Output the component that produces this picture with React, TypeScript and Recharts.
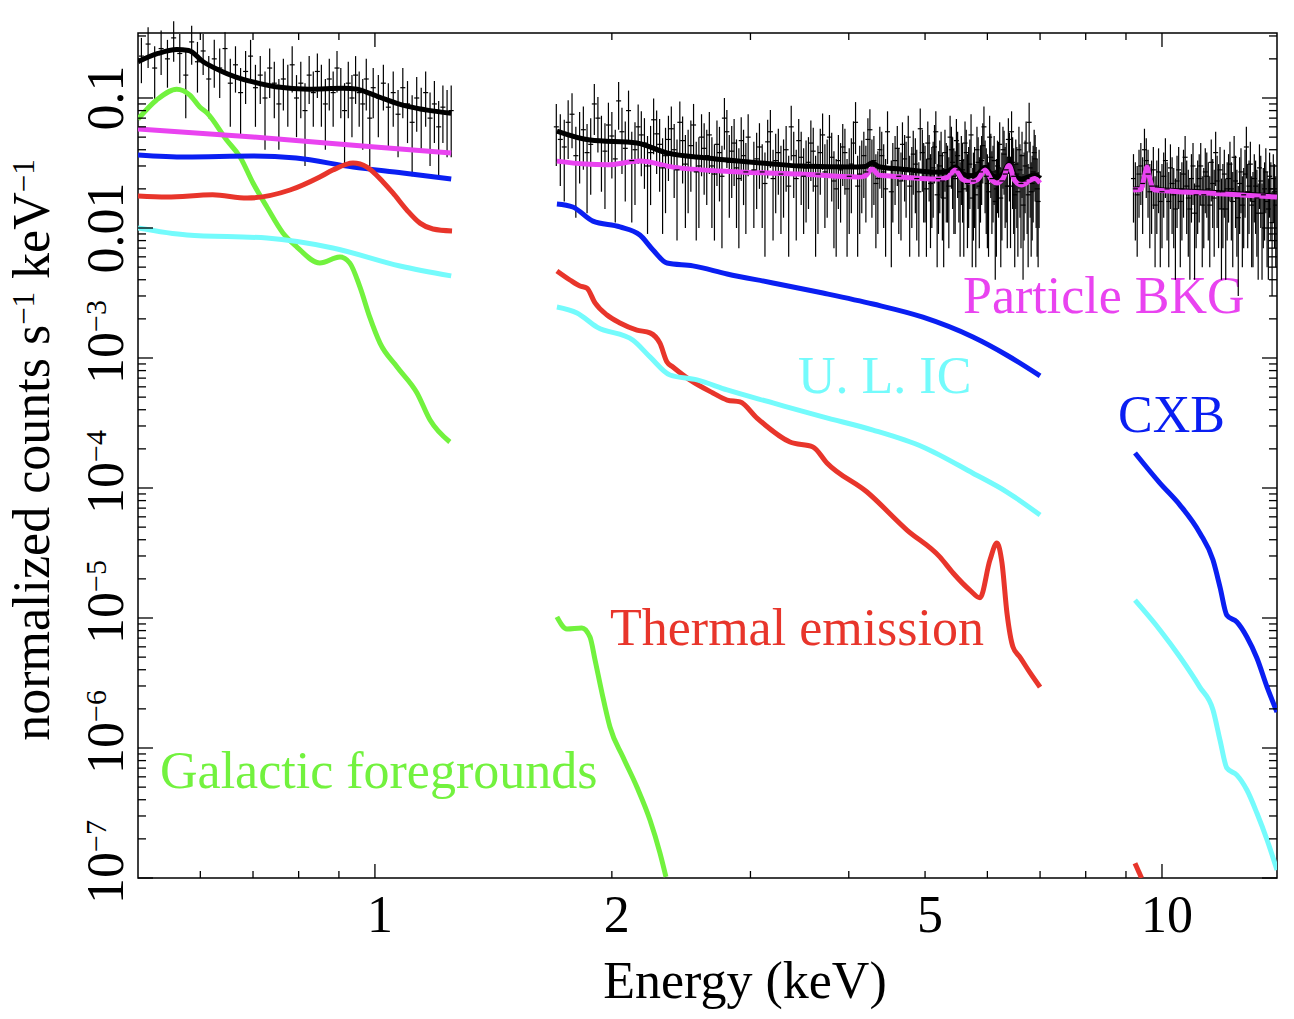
import React from "react";
import {
  ComposedChart,
  XAxis,
  YAxis,
  Line,
  Scatter,
  ErrorBar,
  ReferenceArea,
} from "recharts";

type Pt = [number, number];
type Obs = [number, number, number];

// axis ticks
const xTicks = [0.6, 0.7, 0.8, 0.9, 1, 2, 3, 4, 5, 6, 7, 8, 9, 10];
const xLabelled = [1, 2, 5, 10];
const yDecades = [1e-7, 1e-6, 1e-5, 1e-4, 1e-3, 0.01, 0.1];
const yDecadeLabels: [string, string][] = [
  ["10", "−7"],
  ["10", "−6"],
  ["10", "−5"],
  ["10", "−4"],
  ["10", "−3"],
  ["0.01", ""],
  ["0.1", ""],
];
const yMinorSteps = [2, 3, 4, 5, 6, 7, 8, 9];

// observed spectrum: [energy keV, rate, 1-sigma error]
const spec1: Obs[] = [
  [0.505, 0.21, 0.08], [0.515, 0.26, 0.09], [0.525, 0.17, 0.08], [0.535, 0.24, 0.09],
  [0.545, 0.2, 0.08], [0.555, 0.29, 0.1], [0.565, 0.22, 0.09], [0.575, 0.15, 0.08],
  [0.585, 0.27, 0.09], [0.595, 0.19, 0.08], [0.605, 0.23, 0.08], [0.615, 0.14, 0.07],
  [0.625, 0.2, 0.08], [0.635, 0.17, 0.07], [0.645, 0.24, 0.08], [0.655, 0.13, 0.07],
  [0.665, 0.18, 0.07], [0.675, 0.11, 0.06], [0.685, 0.16, 0.07], [0.695, 0.21, 0.07],
  [0.705, 0.12, 0.06], [0.715, 0.15, 0.06], [0.725, 0.1, 0.06], [0.735, 0.17, 0.07],
  [0.745, 0.13, 0.06], [0.755, 0.09, 0.05], [0.765, 0.14, 0.06], [0.775, 0.12, 0.06],
  [0.785, 0.18, 0.07], [0.795, 0.1, 0.05], [0.805, 0.13, 0.06], [0.815, 0.08, 0.05],
  [0.825, 0.15, 0.06], [0.835, 0.11, 0.05], [0.845, 0.16, 0.06], [0.855, 0.12, 0.06],
  [0.865, 0.09, 0.05], [0.875, 0.14, 0.06], [0.885, 0.11, 0.05], [0.895, 0.17, 0.06],
  [0.905, 0.12, 0.05], [0.915, 0.08, 0.05], [0.925, 0.13, 0.06], [0.935, 0.1, 0.05],
  [0.945, 0.15, 0.06], [0.955, 0.11, 0.05], [0.965, 0.09, 0.05], [0.975, 0.14, 0.06],
  [0.985, 0.07, 0.04], [0.995, 0.12, 0.05], [1.01, 0.1, 0.05], [1.025, 0.13, 0.05],
  [1.04, 0.085, 0.045], [1.055, 0.11, 0.05], [1.07, 0.075, 0.04], [1.085, 0.12, 0.05],
  [1.1, 0.09, 0.045], [1.115, 0.065, 0.04], [1.13, 0.1, 0.045], [1.145, 0.08, 0.04],
  [1.16, 0.11, 0.05], [1.175, 0.07, 0.04], [1.19, 0.09, 0.045], [1.205, 0.06, 0.035],
  [1.22, 0.085, 0.04], [1.235, 0.075, 0.04], [1.25, 0.08, 0.045],
];

const spec2: Obs[] = [
  [1.7, 0.06, 0.03], [1.72, 0.048, 0.027], [1.74, 0.042, 0.026], [1.76, 0.065, 0.031],
  [1.78, 0.075, 0.034], [1.8, 0.036, 0.024], [1.82, 0.05, 0.028], [1.84, 0.057, 0.029],
  [1.86, 0.038, 0.025], [1.88, 0.044, 0.026], [1.9, 0.09, 0.038], [1.92, 0.07, 0.032],
  [1.94, 0.046, 0.027], [1.96, 0.039, 0.025], [1.98, 0.062, 0.03], [2.0, 0.051, 0.027],
  [2.02, 0.034, 0.023], [2.04, 0.095, 0.038], [2.06, 0.055, 0.029], [2.08, 0.041, 0.025],
  [2.1, 0.08, 0.034], [2.12, 0.033, 0.022], [2.14, 0.04, 0.025], [2.16, 0.06, 0.029],
  [2.18, 0.052, 0.027], [2.2, 0.045, 0.025], [2.22, 0.03, 0.021], [2.24, 0.038, 0.023],
  [2.26, 0.068, 0.031], [2.28, 0.053, 0.027], [2.3, 0.044, 0.025], [2.32, 0.029, 0.02],
  [2.34, 0.036, 0.023], [2.36, 0.048, 0.025], [2.38, 0.058, 0.028], [2.4, 0.04, 0.023],
  [2.42, 0.028, 0.02], [2.44, 0.065, 0.029], [2.46, 0.047, 0.025], [2.48, 0.031, 0.021],
  [2.5, 0.035, 0.022], [2.52, 0.043, 0.024], [2.54, 0.062, 0.028], [2.56, 0.027, 0.019],
  [2.58, 0.03, 0.02], [2.6, 0.05, 0.025], [2.62, 0.041, 0.023], [2.64, 0.036, 0.021],
  [2.66, 0.052, 0.026], [2.68, 0.03, 0.02], [2.7, 0.026, 0.018], [2.72, 0.044, 0.023],
  [2.74, 0.038, 0.022], [2.76, 0.025, 0.018], [2.78, 0.07, 0.03], [2.8, 0.055, 0.026],
  [2.82, 0.032, 0.02], [2.84, 0.039, 0.022], [2.86, 0.045, 0.024], [2.88, 0.029, 0.019],
  [2.9, 0.024, 0.017], [2.92, 0.047, 0.024], [2.94, 0.036, 0.021], [2.96, 0.027, 0.018],
  [2.98, 0.05, 0.025], [3.03, 0.028, 0.018], [3.055, 0.034, 0.02], [3.08, 0.042, 0.022],
  [3.105, 0.027, 0.017], [3.13, 0.022, 0.016], [3.155, 0.046, 0.022], [3.18, 0.055, 0.026],
  [3.205, 0.024, 0.016], [3.23, 0.033, 0.02], [3.255, 0.038, 0.02], [3.28, 0.026, 0.017],
  [3.305, 0.03, 0.018], [3.33, 0.04, 0.021], [3.355, 0.021, 0.015], [3.38, 0.06, 0.027],
  [3.405, 0.036, 0.019], [3.43, 0.024, 0.016], [3.455, 0.047, 0.022], [3.48, 0.035, 0.02],
  [3.505, 0.025, 0.016], [3.53, 0.029, 0.018], [3.555, 0.032, 0.018], [3.58, 0.045, 0.022],
  [3.605, 0.039, 0.02], [3.63, 0.021, 0.015], [3.655, 0.026, 0.017], [3.68, 0.038, 0.02],
  [3.705, 0.052, 0.024], [3.73, 0.027, 0.017], [3.755, 0.03, 0.018], [3.78, 0.05, 0.024],
  [3.805, 0.035, 0.019], [3.83, 0.023, 0.016], [3.855, 0.02, 0.014], [3.88, 0.033, 0.019],
  [3.905, 0.028, 0.017], [3.93, 0.042, 0.021], [3.955, 0.038, 0.02], [3.98, 0.02, 0.014],
  [4.005, 0.025, 0.016], [4.03, 0.031, 0.018], [4.055, 0.045, 0.021], [4.08, 0.065, 0.028],
  [4.105, 0.021, 0.015], [4.13, 0.026, 0.017], [4.155, 0.03, 0.017], [4.18, 0.036, 0.019],
  [4.205, 0.027, 0.016], [4.23, 0.048, 0.022], [4.255, 0.057, 0.025], [4.28, 0.03, 0.018],
  [4.305, 0.033, 0.018], [4.33, 0.022, 0.015], [4.355, 0.024, 0.015], [4.38, 0.04, 0.02],
  [4.405, 0.036, 0.019], [4.43, 0.027, 0.017], [4.455, 0.02, 0.014], [4.48, 0.055, 0.024],
  [4.53, 0.019, 0.014], [4.55, 0.028, 0.017], [4.58, 0.033, 0.018], [4.61, 0.041, 0.02],
  [4.63, 0.025, 0.016], [4.66, 0.023, 0.015], [4.68, 0.044, 0.021], [4.71, 0.034, 0.018],
  [4.73, 0.029, 0.017], [4.76, 0.05, 0.023], [4.78, 0.021, 0.015], [4.81, 0.026, 0.016],
  [4.83, 0.037, 0.019], [4.86, 0.031, 0.018], [4.88, 0.024, 0.016], [4.91, 0.019, 0.013],
  [4.93, 0.058, 0.025], [4.96, 0.038, 0.019], [4.98, 0.028, 0.017], [5.0, 0.027, 0.016],
  [5.02, 0.02, 0.014], [5.04, 0.045, 0.021], [5.06, 0.034, 0.018], [5.08, 0.022, 0.015],
  [5.1, 0.026, 0.016], [5.12, 0.029, 0.017], [5.14, 0.042, 0.02], [5.16, 0.055, 0.024],
  [5.18, 0.018, 0.013], [5.2, 0.024, 0.015], [5.22, 0.03, 0.017], [5.24, 0.036, 0.019],
  [5.26, 0.023, 0.015], [5.28, 0.017, 0.012], [5.3, 0.038, 0.019], [5.32, 0.028, 0.017],
  [5.34, 0.027, 0.016], [5.36, 0.021, 0.014], [5.38, 0.05, 0.023], [5.4, 0.04, 0.02],
  [5.42, 0.032, 0.018], [5.44, 0.025, 0.016], [5.46, 0.024, 0.015], [5.48, 0.047, 0.022],
  [5.5, 0.036, 0.019], [5.52, 0.028, 0.017], [5.54, 0.019, 0.013], [5.56, 0.033, 0.018],
  [5.58, 0.028, 0.017], [5.6, 0.02, 0.014], [5.62, 0.045, 0.021], [5.64, 0.038, 0.019],
  [5.66, 0.022, 0.015], [5.68, 0.026, 0.016], [5.7, 0.031, 0.017], [5.72, 0.052, 0.023],
  [5.74, 0.017, 0.012], [5.76, 0.023, 0.015], [5.78, 0.026, 0.016], [5.8, 0.018, 0.013],
  [5.82, 0.04, 0.02], [5.84, 0.032, 0.018], [5.86, 0.021, 0.014], [5.88, 0.027, 0.016],
  [5.9, 0.033, 0.018], [5.92, 0.043, 0.021], [5.94, 0.06, 0.026], [5.96, 0.03, 0.017],
  [5.98, 0.025, 0.016], [6.0, 0.022, 0.015], [6.02, 0.019, 0.013], [6.04, 0.05, 0.023],
  [6.06, 0.035, 0.018], [6.08, 0.024, 0.015], [6.1, 0.027, 0.016], [6.12, 0.033, 0.018],
  [6.14, 0.016, 0.012], [6.16, 0.02, 0.014], [6.18, 0.03, 0.017], [6.2, 0.029, 0.017],
  [6.22, 0.044, 0.021], [6.24, 0.017, 0.012], [6.26, 0.023, 0.015], [6.28, 0.04, 0.02],
  [6.3, 0.037, 0.019], [6.32, 0.026, 0.016], [6.34, 0.028, 0.017], [6.36, 0.021, 0.014],
  [6.38, 0.048, 0.022], [6.4, 0.035, 0.019], [6.42, 0.021, 0.014], [6.44, 0.055, 0.024],
  [6.46, 0.032, 0.018], [6.48, 0.025, 0.016], [6.5, 0.018, 0.013], [6.52, 0.031, 0.017],
  [6.54, 0.026, 0.016], [6.56, 0.019, 0.013], [6.58, 0.04, 0.02], [6.6, 0.028, 0.016],
  [6.62, 0.022, 0.015], [6.64, 0.036, 0.019], [6.66, 0.015, 0.011], [6.68, 0.023, 0.015],
  [6.7, 0.03, 0.017], [6.72, 0.045, 0.021], [6.74, 0.024, 0.015], [6.76, 0.018, 0.013],
  [6.78, 0.065, 0.027], [6.8, 0.029, 0.017], [6.82, 0.019, 0.013], [6.84, 0.022, 0.014],
  [6.86, 0.027, 0.016], [6.88, 0.038, 0.019], [6.9, 0.034, 0.018], [6.92, 0.026, 0.016],
  [6.94, 0.02, 0.014], [6.96, 0.016, 0.011], [6.98, 0.025, 0.015],
];

const spec3: Obs[] = [
  [9.2, 0.024, 0.013], [9.25, 0.02, 0.012], [9.3, 0.018, 0.012], [9.35, 0.026, 0.014],
  [9.4, 0.03, 0.015], [9.45, 0.022, 0.013], [9.5, 0.04, 0.018], [9.55, 0.033, 0.016],
  [9.6, 0.026, 0.014], [9.65, 0.019, 0.012], [9.7, 0.021, 0.012], [9.75, 0.028, 0.014],
  [9.8, 0.015, 0.01], [9.85, 0.021, 0.012], [9.9, 0.027, 0.014], [9.95, 0.016, 0.011],
  [10.0, 0.019, 0.012], [10.05, 0.025, 0.013], [10.1, 0.033, 0.016], [10.15, 0.02, 0.012],
  [10.2, 0.016, 0.011], [10.25, 0.029, 0.015], [10.3, 0.022, 0.013], [10.35, 0.018, 0.011],
  [10.4, 0.014, 0.01], [10.45, 0.023, 0.013], [10.5, 0.028, 0.014], [10.55, 0.016, 0.011],
  [10.6, 0.02, 0.012], [10.65, 0.026, 0.014], [10.7, 0.035, 0.016], [10.75, 0.021, 0.012],
  [10.8, 0.017, 0.011], [10.85, 0.014, 0.01], [10.9, 0.024, 0.013], [10.95, 0.03, 0.015],
  [11.0, 0.013, 0.009], [11.05, 0.018, 0.011], [11.1, 0.021, 0.012], [11.15, 0.024, 0.013],
  [11.2, 0.03, 0.015], [11.25, 0.015, 0.01], [11.3, 0.018, 0.011], [11.35, 0.027, 0.014],
  [11.4, 0.025, 0.013], [11.45, 0.02, 0.012], [11.5, 0.015, 0.01], [11.55, 0.032, 0.016],
  [11.6, 0.022, 0.012], [11.65, 0.017, 0.011], [11.7, 0.038, 0.017], [11.75, 0.023, 0.013],
  [11.8, 0.019, 0.012], [11.85, 0.028, 0.014], [11.9, 0.014, 0.01], [11.95, 0.019, 0.012],
  [12.0, 0.026, 0.014], [12.05, 0.014, 0.01], [12.1, 0.02, 0.012], [12.15, 0.024, 0.013],
  [12.2, 0.031, 0.015], [12.25, 0.02, 0.012], [12.3, 0.016, 0.011], [12.35, 0.035, 0.016],
  [12.4, 0.023, 0.013], [12.45, 0.017, 0.011], [12.5, 0.012, 0.009], [12.55, 0.022, 0.013],
  [12.6, 0.027, 0.014], [12.65, 0.015, 0.01], [12.7, 0.018, 0.011], [12.75, 0.026, 0.014],
  [12.8, 0.042, 0.018], [12.85, 0.019, 0.012], [12.9, 0.021, 0.012], [12.95, 0.031, 0.015],
  [13.0, 0.015, 0.01], [13.05, 0.016, 0.011], [13.1, 0.024, 0.013], [13.15, 0.021, 0.012],
  [13.2, 0.017, 0.011], [13.25, 0.013, 0.009], [13.3, 0.029, 0.015], [13.35, 0.023, 0.013],
  [13.4, 0.013, 0.009], [13.45, 0.018, 0.011], [13.5, 0.02, 0.012], [13.55, 0.027, 0.014],
  [13.6, 0.016, 0.011], [13.65, 0.014, 0.01], [13.7, 0.025, 0.013], [13.75, 0.02, 0.012],
  [13.8, 0.011, 0.008], [13.85, 0.024, 0.013], [13.9, 0.019, 0.012], [13.95, 0.015, 0.01],
];

// model curves, one list per detector band
const totalModel: Pt[][] = [
  [[0.5, 0.19], [0.53, 0.22], [0.56, 0.236], [0.58, 0.232], [0.605, 0.19], [0.635, 0.163],
   [0.666, 0.145], [0.7, 0.133], [0.748, 0.122], [0.824, 0.117], [0.911, 0.119], [0.95, 0.117],
   [0.983, 0.109], [1.03, 0.098], [1.085, 0.088], [1.16, 0.081], [1.25, 0.0762]],
  [[1.703, 0.0557], [1.876, 0.0475], [2.152, 0.0451], [2.35, 0.0378], [2.642, 0.0345],
   [3.204, 0.0311], [3.467, 0.03], [4.1, 0.0295], [4.2, 0.0297], [4.28, 0.0318], [4.37, 0.0296],
   [4.65, 0.0284], [5.22, 0.0268], [5.34, 0.0272], [5.46, 0.0295], [5.58, 0.0262], [5.7, 0.0252],
   [5.83, 0.026], [5.96, 0.0292], [6.08, 0.0255], [6.17, 0.0246], [6.28, 0.0262], [6.39, 0.031],
   [6.5, 0.0254], [6.63, 0.0238], [6.89, 0.0256], [7.0, 0.024]],
  [[9.19, 0.0199], [9.4, 0.0201], [9.5, 0.0253], [9.57, 0.0297], [9.65, 0.0243], [9.76, 0.02],
   [11.41, 0.0189], [14.0, 0.0176]],
];

const particleBkg: Pt[][] = [
  [[0.5, 0.0578], [0.7, 0.0501], [1.0, 0.042], [1.25, 0.0378]],
  [[1.703, 0.0327], [1.85, 0.031], [1.972, 0.0306], [2.171, 0.0327], [2.391, 0.0294],
   [2.91, 0.027], [3.47, 0.026], [4.1, 0.0247], [4.2, 0.0252], [4.28, 0.0284], [4.37, 0.0255],
   [4.47, 0.0252], [5.22, 0.0238], [5.34, 0.0245], [5.46, 0.0279], [5.58, 0.0236], [5.7, 0.0226],
   [5.83, 0.0236], [5.96, 0.0279], [6.08, 0.0232], [6.17, 0.0222], [6.28, 0.024], [6.39, 0.0302],
   [6.5, 0.0232], [6.63, 0.0214], [6.89, 0.024], [7.0, 0.0222]],
  [[9.19, 0.0196], [9.4, 0.0198], [9.5, 0.025], [9.57, 0.0294], [9.65, 0.024], [9.76, 0.0197],
   [11.41, 0.0186], [14.0, 0.0173]],
];

const cxb: Pt[][] = [
  [[0.5, 0.0365], [0.575, 0.0352], [0.7, 0.0358], [0.794, 0.0345], [0.938, 0.0294],
   [1.085, 0.0265], [1.25, 0.0238]],
  [[1.703, 0.0153], [1.784, 0.0145], [1.892, 0.0113], [2.048, 0.0102], [2.171, 0.00883],
   [2.256, 0.00678], [2.35, 0.00538], [2.535, 0.00511], [2.802, 0.00443], [3.204, 0.00378],
   [3.709, 0.00316], [4.294, 0.0026], [4.969, 0.00206], [5.752, 0.00145], [6.354, 0.00105],
   [7.0, 0.000728]],
  [[9.24, 0.000186], [9.94, 0.000109], [10.54, 0.0000739], [11.17, 0.0000451],
   [11.61, 0.0000279], [11.85, 0.0000173], [12.09, 0.0000105], [12.45, 0.00000931],
   [12.82, 0.00000714], [13.2, 0.00000492], [13.6, 0.00000294], [14.0, 0.00000189]],
];

const thermal: Pt[][] = [
  [[0.5, 0.0176], [0.544, 0.0173], [0.622, 0.018], [0.688, 0.017], [0.78, 0.0196],
   [0.851, 0.0247], [0.884, 0.0279], [0.938, 0.0316], [0.977, 0.0294], [1.024, 0.0226],
   [1.054, 0.0186], [1.098, 0.01374], [1.141, 0.0109], [1.185, 0.00982], [1.253, 0.00948]],
  [[1.703, 0.00467], [1.769, 0.00398], [1.822, 0.00358], [1.859, 0.00345], [1.904, 0.00265],
   [1.972, 0.00214], [2.048, 0.00186], [2.152, 0.00164], [2.236, 0.00156], [2.302, 0.0013],
   [2.35, 0.000931], [2.391, 0.000853], [2.513, 0.000678], [2.688, 0.000538], [2.802, 0.000475],
   [2.91, 0.000459], [3.058, 0.000345], [3.368, 0.000226], [3.602, 0.000207], [3.752, 0.000156],
   [4.219, 0.0000931], [4.742, 0.0000475], [5.224, 0.0000294], [5.427, 0.0000222],
   [5.7, 0.0000164], [5.871, 0.0000143], [6.045, 0.0000279], [6.17, 0.0000378],
   [6.262, 0.0000265], [6.354, 0.0000109], [6.467, 0.00000598], [6.6, 0.000005],
   [6.8, 0.00000378], [7.0, 0.00000294]],
  [[9.24, 0.00000013], [9.42, 0.0000001]],
];

const ulic: Pt[][] = [
  [[0.5, 0.01], [0.577, 0.00883], [0.729, 0.00837], [0.884, 0.00702], [1.076, 0.0051],
   [1.25, 0.00428]],
  [[1.703, 0.00247], [1.806, 0.00222], [1.915, 0.00173], [2.128, 0.00137], [2.236, 0.00102],
   [2.371, 0.00074], [2.566, 0.000678], [2.802, 0.000568], [3.204, 0.000451], [3.709, 0.000352],
   [4.294, 0.000279], [4.969, 0.000207], [5.752, 0.00013], [6.354, 0.0000931], [7.0, 0.0000619]],
  [[9.24, 0.0000137], [9.94, 0.00000809], [10.54, 0.00000501], [11.17, 0.00000294],
   [11.61, 0.00000196], [11.85, 0.00000115], [12.09, 0.000000702], [12.45, 0.000000619],
   [12.82, 0.000000475], [13.2, 0.000000316], [13.6, 0.000000196], [14.0, 0.000000115]],
];

const galactic: Pt[][] = [
  [[0.5, 0.0689], [0.528, 0.0966], [0.56, 0.117], [0.582, 0.1054], [0.599, 0.0853],
   [0.612, 0.0767], [0.648, 0.0475], [0.674, 0.0352], [0.7, 0.0222], [0.729, 0.0145],
   [0.764, 0.00916], [0.796, 0.00714], [0.851, 0.00538], [0.903, 0.00598], [0.929, 0.00538],
   [0.957, 0.00352], [0.985, 0.00206], [1.015, 0.0013], [1.067, 0.000853], [1.131, 0.000538],
   [1.175, 0.000333], [1.245, 0.000226]],
  [[1.703, 0.0000102], [1.754, 0.00000822], [1.832, 0.00000837], [1.876, 0.00000714],
   [1.904, 0.00000475], [1.943, 0.00000265], [1.989, 0.00000145], [2.066, 0.000000853],
   [2.152, 0.000000501], [2.236, 0.000000279], [2.302, 0.000000156], [2.343, 0.000000102]],
];

const FONT = "'Liberation Serif', 'Times New Roman', serif";
const PLOT_W = 1139;
const PLOT_H = 845;

const toRows = (pts: Pt[]) => pts.map(([e, v]) => ({ e, v }));
const toObs = (pts: Obs[]) => pts.map(([e, v, s]) => ({ e, v, s }));

const yTicks = [
  ...yDecades,
  ...yDecades.flatMap((d) => yMinorSteps.map((k) => d * k)).filter((t) => t < 0.316),
];

const XTick = (props: any) => {
  const { x, y, payload } = props;
  const v = payload.value;
  const len = v === 1 || v === 10 ? 14 : 7;
  return (
    <g>
      <line x1={x} x2={x} y1={y} y2={y - len} stroke="#000" strokeWidth={1.3} />
      <line x1={x} x2={x} y1={y - PLOT_H} y2={y - PLOT_H + len} stroke="#000" strokeWidth={1.3} />
      {xLabelled.includes(v) && (
        <text x={x + 5} y={y + 54} textAnchor="middle" fontSize={52} fontFamily={FONT} fill="#000">
          {v}
        </text>
      )}
    </g>
  );
};

const YTick = (props: any) => {
  const { x, y, payload } = props;
  const v = payload.value;
  const idx = yDecades.indexOf(v);
  const len = idx >= 0 ? 15 : 8;
  const tx = x - 15;
  let label = null;
  if (idx >= 0) {
    const [base, exp] = yDecadeLabels[idx];
    label = exp ? (
      <text x={tx - 26} y={y} transform={`rotate(-90 ${tx} ${y})`} fontSize={52} fontFamily={FONT} fill="#000">
        {base}
        <tspan dy={-17} fontSize={30}>{exp}</tspan>
      </text>
    ) : (
      <text x={tx} y={y} transform={`rotate(-90 ${tx} ${y})`} textAnchor="middle" fontSize={52} fontFamily={FONT} fill="#000">
        {base}
      </text>
    );
  }
  return (
    <g>
      <line x1={x} x2={x + len} y1={y} y2={y} stroke="#000" strokeWidth={1.3} />
      <line x1={x + PLOT_W} x2={x + PLOT_W - len} y1={y} y2={y} stroke="#000" strokeWidth={1.3} />
      {label}
    </g>
  );
};

const BinMark = (props: any) => {
  const { cx, cy } = props;
  return <line x1={cx - 2.5} x2={cx + 2.5} y1={cy} y2={cy} stroke="#000" strokeWidth={1.2} />;
};

const COLORS = {
  total: "#000000",
  galactic: "#72f23e",
  cxb: "#0a1ff2",
  thermal: "#e8352b",
  ulic: "#74fbfc",
  particle: "#e943f0",
};

const modelLines = (segs: Pt[][], color: string, name: string) =>
  segs.map((seg, i) => (
    <Line
      key={`${name}-${i}`}
      data={toRows(seg)}
      dataKey="v"
      type="monotone"
      stroke={color}
      strokeWidth={5}
      dot={false}
      activeDot={false}
      isAnimationActive={false}
    />
  ));

export default function App() {
  // the chart fills the whole window, so it undoes the body margin
  return (
    <div style={{ width: 1294, height: 1019, margin: -8, fontFamily: FONT }}>
      <ComposedChart width={1294} height={1019} margin={{ top: 33, right: 17, bottom: 111, left: 78 }}>
        <XAxis
          dataKey="e"
          type="number"
          scale="log"
          domain={[0.5, 14]}
          allowDataOverflow
          ticks={xTicks}
          interval={0}
          tick={<XTick />}
          tickSize={0}
          tickMargin={0}
          axisLine={false}
          tickLine={false}
          height={30}
        />
        <YAxis
          dataKey="v"
          type="number"
          scale="log"
          domain={[1e-7, 0.3162]}
          allowDataOverflow
          ticks={yTicks}
          interval={0}
          tick={<YTick />}
          tickSize={0}
          tickMargin={0}
          axisLine={false}
          tickLine={false}
          width={60}
        />
        <ReferenceArea x1={0.5} x2={14} y1={1e-7} y2={0.3162} fill="none" stroke="#000" strokeWidth={1.5} />
        {[spec1, spec2, spec3].map((s, i) => (
          <Scatter key={`obs-${i}`} data={toObs(s)} dataKey="v" shape={<BinMark />} isAnimationActive={false}>
            <ErrorBar dataKey="s" direction="y" width={0} stroke="#000" strokeWidth={1.2} />
          </Scatter>
        ))}
        {modelLines(totalModel, COLORS.total, "total")}
        {modelLines(galactic, COLORS.galactic, "gal")}
        {modelLines(cxb, COLORS.cxb, "cxb")}
        {modelLines(thermal, COLORS.thermal, "th")}
        {modelLines(ulic, COLORS.ulic, "ulic")}
        {modelLines(particleBkg, COLORS.particle, "nxb")}
        <text x={49} y={450} transform="rotate(-90 49 450)" textAnchor="middle" fontSize={52} fontFamily={FONT} fill="#000">
          normalized counts s<tspan dy={-15} fontSize={31}>−1</tspan>
          <tspan dy={15}> keV</tspan>
          <tspan dy={-15} fontSize={31}>−1</tspan>
        </text>
        <text x={745} y={998} textAnchor="middle" fontSize={52} fontFamily={FONT} fill="#000">
          Energy (keV)
        </text>
        <text x={963} y={313} fontSize={52} fontFamily={FONT} fill={COLORS.particle}>Particle BKG</text>
        <text x={798} y={393} fontSize={52} fontFamily={FONT} fill={COLORS.ulic}>U. L. IC</text>
        <text x={1118} y={432} fontSize={52} fontFamily={FONT} fill={COLORS.cxb}>CXB</text>
        <text x={610} y={645} fontSize={52} fontFamily={FONT} fill={COLORS.thermal}>Thermal emission</text>
        <text x={160} y={788} fontSize={52} fontFamily={FONT} fill={COLORS.galactic}>Galactic foregrounds</text>
      </ComposedChart>
    </div>
  );
}
